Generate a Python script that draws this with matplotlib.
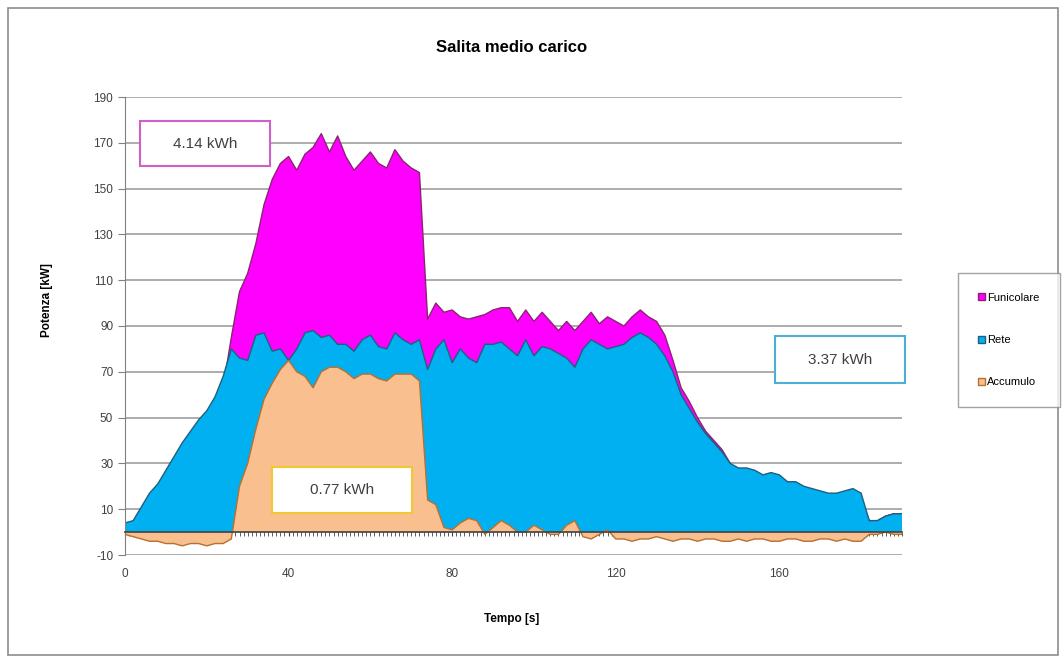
import numpy as np
import matplotlib
matplotlib.use('Agg')
import matplotlib.pyplot as plt
from matplotlib.patches import Rectangle, Patch
from matplotlib.ticker import MultipleLocator

plt.rcParams['font.family'] = ['Liberation Sans', 'DejaVu Sans']
plt.rcParams['axes.unicode_minus'] = False

# time axis [s], one sample every 2 s
tempo = np.arange(0, 191, 2)

funicolare = [3, 3, 8, 13, 17, 22, 28, 33, 39, 44, 47, 54, 63,
              85, 105, 113, 126, 143, 154, 161, 164, 158, 165, 168, 174,
              166, 173, 164, 158, 162, 166, 161, 159, 167, 162, 159, 157,
              93, 100, 96, 97, 94, 93, 94, 95, 97, 98, 98, 92, 97, 92, 96,
              92, 88, 92, 88, 92, 96, 91, 94, 92, 90, 94, 97, 94, 92,
              86, 75, 63, 57, 50, 44, 40, 36, 30, 26, 25, 24, 22, 23, 22,
              19, 19, 17, 16, 15, 14, 14, 15, 16, 14, 5, 5, 7, 8, 8]

rete = [4, 5, 11, 17, 21, 27, 33, 39, 44, 49, 53, 59, 68,
        80, 76, 75, 86, 87, 79, 80, 75, 80, 87, 88, 85, 86, 82, 82, 79,
        84, 86, 81, 80, 87, 84, 82, 84,
        71, 80, 84, 74, 80, 76, 74, 82, 82, 83, 80, 77, 84, 77, 81, 80,
        78, 76, 72, 80, 84, 82, 80, 81, 82, 85, 87, 85, 82,
        77, 70, 60, 54, 48, 43, 39, 35, 30, 28, 28, 27, 25, 26, 25, 22,
        22, 20, 19, 18, 17, 17, 18, 19, 17, 5, 5, 7, 8, 8]

accumulo = [-1, -2, -3, -4, -4, -5, -5, -6, -5, -5, -6, -5, -5,
            -3, 20, 30, 45, 58, 65, 71, 75, 70, 68, 63, 70, 72, 72, 70,
            67, 69, 69, 67, 66, 69, 69, 69, 66,
            14, 12, 2, 1, 4, 6, 5, -1, 2, 5, 3, 0, 0, 3, 1, -1, -1, 3, 5,
            -2, -3, -1, 1, -3, -3, -4, -3, -3, -2,
            -3, -4, -3, -3, -4, -3, -3, -4, -4, -3, -4, -3, -3, -4, -4,
            -3, -3, -4, -4, -3, -3, -4, -3, -4, -4, -1, -1, 0, -1, -1]

series = ['Funicolare', 'Rete', 'Accumulo']
fill_colors = ['#ff00ff', '#00b0f0', '#f9bf8f']
edge_colors = ['#8a2470', '#1f5f80', '#b8702e']

energy_labels = ['4.14 kWh', '0.77 kWh', '3.37 kWh']
energy_colors = ['#d060c8', '#f2c832', '#4bb0d4']
# box corners in pixels (left, top, right, bottom)
energy_boxes = [(140, 121, 270, 166), (272, 467, 412, 513), (775, 336, 905, 383)]

W, H = 1064, 662
fig = plt.figure(figsize=(W / 100, H / 100), dpi=100)
fig.patches.append(Rectangle((8 / W, 1 - 655 / H), (1058 - 8) / W, (655 - 8) / H,
                             transform=fig.transFigure, fill=False,
                             edgecolor='#8c8c8c', lw=1.2))

ax = fig.add_axes([125 / W, 1 - 555 / H, (902 - 125) / W, (555 - 97) / H])

z = 2
for vals, fc, ec in zip([funicolare, rete, accumulo], fill_colors, edge_colors):
    ax.fill_between(tempo, 0, vals, facecolor=fc, edgecolor='none', zorder=z)
    ax.plot(tempo, vals, color=ec, lw=1, zorder=z + 0.1)
    z += 0.2

ax.set_xlim(0, 190)
ax.set_ylim(-10, 190)
ax.set_yticks(range(-10, 191, 20))
ax.yaxis.grid(True, color='#a6a6a6', lw=1.3)
ax.set_axisbelow(True)

ax.spines['top'].set_visible(False)
ax.spines['right'].set_visible(False)
ax.spines['bottom'].set_position(('data', 0))
ax.spines['bottom'].set_color('#404040')
ax.spines['bottom'].set_linewidth(1.2)
ax.spines['bottom'].set_zorder(3)
ax.spines['left'].set_color('#808080')

ax.xaxis.set_major_locator(MultipleLocator(40))
ax.xaxis.set_minor_locator(MultipleLocator(1))
ax.tick_params(axis='x', which='both', length=3, direction='out',
               color='#404040', pad=23, labelsize=8.5, labelcolor='#404040')
ax.tick_params(axis='y', length=5, direction='out', color='#808080',
               labelsize=8.5, labelcolor='#404040')

fig.text(512 / W, 1 - 47 / H, 'Salita medio carico', ha='center', va='center',
         fontsize=12, fontweight='bold')
fig.text(47 / W, 1 - 300 / H, 'Potenza [kW]', ha='center', va='center',
         rotation=90, fontsize=8.5, fontweight='bold')
fig.text(512 / W, 1 - 619 / H, 'Tempo [s]', ha='center', va='center',
         fontsize=8.5, fontweight='bold')

for lab, col, (l, t, r, b) in zip(energy_labels, energy_colors, energy_boxes):
    fig.patches.append(Rectangle((l / W, 1 - b / H), (r - l) / W, (b - t) / H,
                                 transform=fig.transFigure, facecolor='white',
                                 edgecolor=col, lw=1.5, zorder=5))
    fig.text((l + r) / 2 / W, 1 - (t + b) / 2 / H, lab, ha='center', va='center',
             fontsize=11, color='#404040', zorder=6)

handles = [Patch(facecolor=fc, edgecolor=ec) for fc, ec in zip(fill_colors, edge_colors)]
leg = fig.legend(handles, series, loc='center', bbox_to_anchor=(1009 / W, 1 - 340 / H),
                 frameon=True, fancybox=False, edgecolor='#8c8c8c', fontsize=8,
                 handlelength=0.6, handleheight=0.6, handletextpad=0.2,
                 labelspacing=2.9, borderpad=1.8)
leg.get_frame().set_linewidth(1.0)

fig.savefig('out.png', dpi=100)
